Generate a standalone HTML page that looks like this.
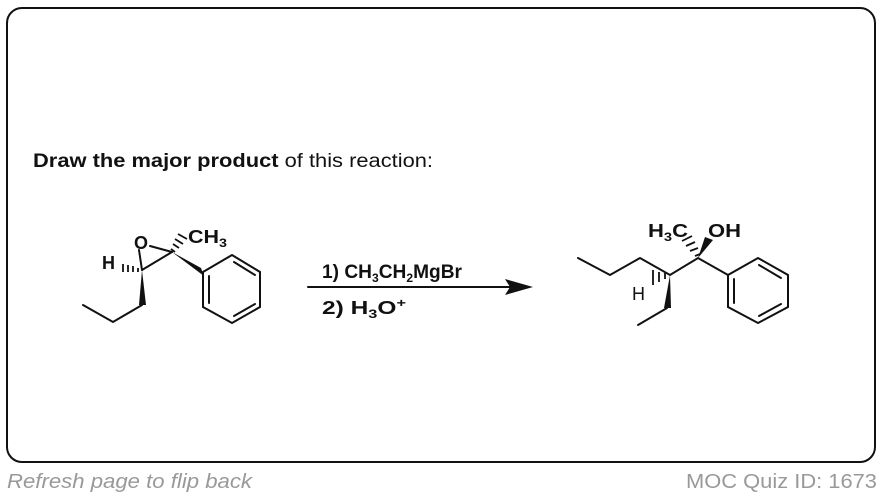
<!DOCTYPE html>
<html><head><style>
body{margin:0;width:884px;height:498px;background:#fff;overflow:hidden;font-family:"Liberation Sans",sans-serif}
.box{position:absolute;left:6px;top:7px;width:870px;height:456px;border:2.5px solid #111;border-radius:16px;box-sizing:border-box}
svg{position:absolute;left:0;top:0}
</style></head><body>
<div class="box"></div>
<svg width="884" height="498" font-family="Liberation Sans, sans-serif">
<text x="33" y="167" font-size="19" fill="#111" textLength="400" lengthAdjust="spacingAndGlyphs"><tspan font-weight="bold">Draw the major product</tspan> of this reaction:</text>
<g stroke="#111" stroke-width="2" fill="none" stroke-linecap="round">
<line x1="142" y1="270" x2="172" y2="252"/>
<line x1="142" y1="270" x2="139" y2="250"/>
<line x1="172" y1="252" x2="150" y2="246"/>
<polyline points="142,305 113,322 83,305"/>
<polygon points="203,307 203,272 232,255 260,272 260,307 232,323" />
<line x1="209" y1="276" x2="209" y2="303"/>
<line x1="234" y1="262" x2="255" y2="275"/>
<line x1="234" y1="316" x2="255" y2="304"/>
<polyline points="578,258 610,275 640,258 670,275 698,258 728,275"/>
<polyline points="667,308 638,325"/>
<polygon points="728,307 728,275 758,258 788,275 788,307 758,323"/>
<line x1="734" y1="279" x2="734" y2="303"/>
<line x1="759" y1="265" x2="781" y2="278"/>
<line x1="759" y1="316" x2="781" y2="304"/>
<line x1="308" y1="287" x2="515" y2="287"/>
</g>
<polygon points="142,270 139,305 146,305" fill="#111"/>
<polygon points="172,252 201,268 204,276" fill="#111"/>
<polygon points="698,258 705,237 713,240" fill="#111"/>
<polygon points="670,275 664,308 671,308" fill="#111"/>
<polygon points="533,287 505,279 510,287 505,295" fill="#111"/>
<g stroke="#111" stroke-width="1.8">
<line x1="138" y1="268" x2="138" y2="272"/><line x1="133" y1="266" x2="133" y2="272"/><line x1="128" y1="265" x2="128" y2="272"/><line x1="123" y1="264" x2="123" y2="272"/>
<line x1="175" y1="252" x2="171" y2="249"/><line x1="179" y1="248" x2="173" y2="244"/><line x1="183" y1="244" x2="175" y2="239"/><line x1="187" y1="239" x2="178" y2="234"/>
<line x1="695" y1="256" x2="700" y2="254"/><line x1="690" y1="251" x2="698" y2="248"/><line x1="686" y1="246" x2="695" y2="242"/><line x1="682" y1="241" x2="692" y2="236"/>
<line x1="665" y1="273" x2="665" y2="279"/><line x1="659" y1="272" x2="659" y2="282"/><line x1="653" y1="270" x2="653" y2="285"/>
</g>
<g font-size="18" font-weight="bold" fill="#111">
<text x="134" y="249">O</text>
<text x="188" y="243" textLength="39" lengthAdjust="spacingAndGlyphs">CH<tspan font-size="12" dy="4">3</tspan></text>
<text x="102" y="269">H</text>
<text x="648" y="237" textLength="40" lengthAdjust="spacingAndGlyphs">H<tspan font-size="12" dy="4">3</tspan><tspan dy="-4">C</tspan></text>
<text x="708" y="237" textLength="33" lengthAdjust="spacingAndGlyphs">OH</text>
<text x="322" y="278" font-size="19" textLength="140" lengthAdjust="spacingAndGlyphs">1)  CH<tspan font-size="12" dy="4">3</tspan><tspan dy="-4">CH</tspan><tspan font-size="12" dy="4">2</tspan><tspan dy="-4">MgBr</tspan></text>
<text x="322" y="314" font-size="18" textLength="84" lengthAdjust="spacingAndGlyphs">2)  H<tspan font-size="12" dy="4">3</tspan><tspan dy="-4">O</tspan><tspan font-size="12" dy="-7">+</tspan></text>
</g>
<text x="632" y="300" font-size="18" fill="#111">H</text>
<text x="7" y="488" font-size="20" font-style="italic" fill="#999" textLength="245" lengthAdjust="spacingAndGlyphs">Refresh page to flip back</text>
<text x="686" y="488" font-size="20" fill="#999" textLength="191" lengthAdjust="spacingAndGlyphs">MOC Quiz ID: 1673</text>
</svg>
</body></html>
